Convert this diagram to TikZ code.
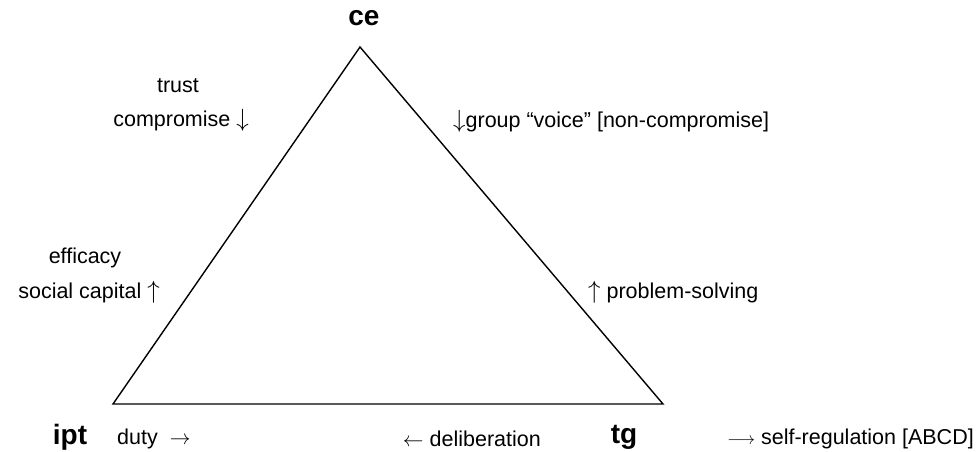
\documentclass[tikz,border=0pt]{standalone}
\usepackage{fontspec}
\setmainfont{Liberation Sans}
\newcommand\varr[1]{{\fontsize{25}{25}\selectfont$#1$}}
\begin{document}
\begin{tikzpicture}[x=1pt,y=-1pt,
  lbl/.style={inner sep=0pt,font=\fontsize{21.5}{23}\selectfont},
  vert/.style={inner sep=0pt,font=\fontsize{28}{30}\selectfont\bfseries},
  tri/.style={line width=1.4pt}]
\useasboundingbox (0,0) rectangle (977,452);
\coordinate (top) at (360,47);
\coordinate (bl) at (113,404);
\coordinate (br) at (663,404);
\draw[tri,line join=miter] (top) -- (bl) -- (br) -- cycle;
\node[vert] (ce) at (364,18) {ce};
\node[vert] (ipt) at (70,437) {ipt};
\node[vert] (tg) at (624,437) {tg};
\node[lbl] (trust) at (178,86) {trust};
\node[lbl,anchor=east] (comp) at (249,120) {compromise \varr\downarrow};
\node[lbl,anchor=west] (voice) at (453,121) {\varr\downarrow group “voice” [non-compromise]};
\node[lbl] (eff) at (85,258) {efficacy};
\node[lbl,anchor=east] (soc) at (160,292) {social capital \varr\uparrow};
\node[lbl,anchor=west] (prob) at (588,292) {\varr\uparrow\ problem-solving};
\node[lbl,anchor=west] (duty) at (117,439) {duty\ \ $\rightarrow$};
\node[lbl,anchor=east] (delib) at (541,439) {$\leftarrow$ deliberation};
\node[lbl,anchor=east] (self) at (974,439) {{\fontsize{18}{20}\selectfont$\longrightarrow$} self-regulation [ABCD]};
\end{tikzpicture}
\end{document}
